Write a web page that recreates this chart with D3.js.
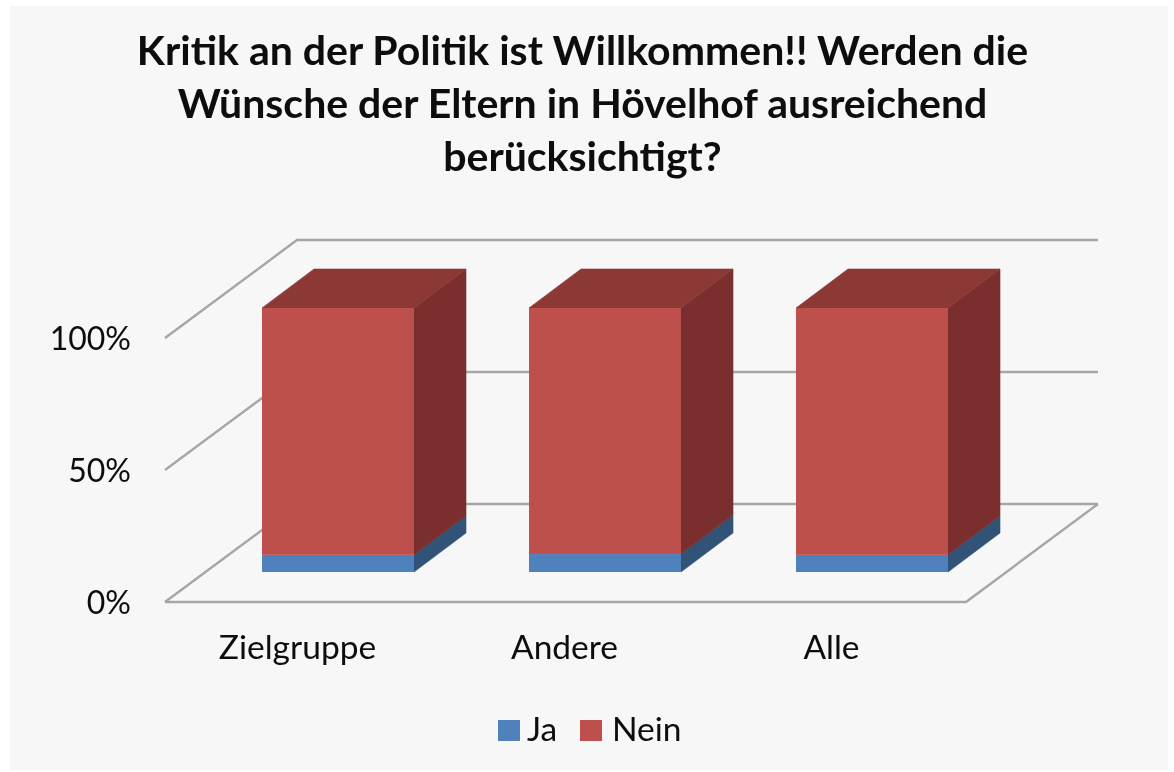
<!DOCTYPE html>
<html><head><meta charset="utf-8">
<script src="https://cdn.jsdelivr.net/npm/d3@7/dist/d3.min.js"></script>
<style>html,body{margin:0;padding:0;background:#fff}svg{display:block}text{font-family:Lato,"Open Sans",sans-serif;fill:#0c0c0c}</style>
</head><body><svg id="c" width="1174" height="772"></svg>
<script>
const titleLines = ["Kritik an der Politik ist Willkommen!! Werden die","Wünsche der Eltern in Hövelhof ausreichend","berücksichtigt?"];
const categories = ["Zielgruppe","Andere","Alle"];
const ja = [0.065,0.068,0.065];
const nein = [0.935,0.932,0.935];
const seriesNames = ["Ja","Nein"];
const tickValues = [0,0.5,1];

const svg = d3.select("#c");
const defs = svg.append("defs");
defs.append("filter").attr("id","soft").append("feGaussianBlur").attr("stdDeviation",0.7);
defs.append("filter").attr("id","softT").append("feGaussianBlur").attr("stdDeviation",0.4);
svg.append("rect").attr("x",10).attr("y",6).attr("width",1158).attr("height",764).attr("fill","#f7f7f7");

const x = d3.scaleBand().domain(categories).range([165,966]).padding(0);
const y = d3.scaleLinear().domain([0,1]).range([602,338]);
const floorDx = 132, floorDy = -98;   // oblique depth of the floor
const barOffX = 39.5, barOffY = -30;  // bars stand set back on the floor
const depthX = 52, depthY = -39;      // bar depth
const barW = 152;

const color = {Ja:{front:"#4f81bd",side:"#325278"},Nein:{front:"#bd504d",side:"#7a2f2f",top:"#8c3836"}};

const g = svg.append("g").attr("filter","url(#soft)");
const grid = "#a6a6a6";
// back wall and side wall gridlines
tickValues.forEach(t=>{
  const py=y(t);
  g.append("path").attr("fill","none").attr("stroke",grid).attr("stroke-width",2.4)
   .attr("d",d3.line()([[x.range()[0],py],[x.range()[0]+floorDx,py+floorDy],[x.range()[1]+floorDx,py+floorDy]]));
});
// floor front edge
g.append("path").attr("fill","none").attr("stroke",grid).attr("stroke-width",2.4)
 .attr("d",d3.line()([[x.range()[0],y(0)],[x.range()[1],y(0)],[x.range()[1]+floorDx,y(0)+floorDy]]));

// stacked bars
categories.forEach((c,i)=>{
  const x0 = x(c)+x.bandwidth()/2-barW/2+barOffX, x1 = x0+barW;
  const stack = [{k:"Ja",a:0,b:ja[i]},{k:"Nein",a:ja[i],b:ja[i]+nein[i]}];
  const bg = g.append("g");
  stack.forEach(s=>{
    const y0=y(s.a)+barOffY, y1=y(s.b)+barOffY;
    bg.append("path").attr("fill",color[s.k].side).attr("stroke",color[s.k].side).attr("stroke-width",0.6)
      .attr("d",d3.line()([[x1,y0],[x1+depthX,y0+depthY],[x1+depthX,y1+depthY],[x1,y1]])+"Z");
  });
  const ytop=y(1)+barOffY;
  bg.append("path").attr("fill",color.Nein.top).attr("stroke",color.Nein.top).attr("stroke-width",0.6)
    .attr("d",d3.line()([[x0,ytop],[x0+depthX,ytop+depthY],[x1+depthX,ytop+depthY],[x1,ytop]])+"Z");
  stack.forEach(s=>{
    const y0=y(s.a)+barOffY, y1=y(s.b)+barOffY;
    bg.append("rect").attr("x",x0).attr("y",y1).attr("width",barW).attr("height",y0-y1).attr("fill",color[s.k].front);
  });
});

const tg = svg.append("g").attr("filter","url(#softT)");
// title
tg.append("g").selectAll("text").data(titleLines).join("text")
  .attr("x",582.5).attr("y",(d,i)=>65+i*53).attr("text-anchor","middle")
  .attr("font-size",41).attr("font-weight",700).text(d=>d);

// axes
const yAxis = d3.axisLeft(y).tickValues(tickValues).tickSize(0).tickPadding(0).tickFormat(d3.format(".0%"));
const ya = tg.append("g").attr("transform","translate(131,0)").call(yAxis);
ya.select(".domain").remove();
ya.selectAll("text").attr("font-size",32).attr("dy",11).style("font-family","Lato");
const xAxis = d3.axisBottom(x).tickSize(0).tickPadding(0);
const xa = tg.append("g").attr("transform","translate(-1,633)").call(xAxis);
xa.select(".domain").remove();
xa.selectAll("text").attr("font-size",33.5).attr("dy",26).style("font-family","Lato");

// legend
const legX = d3.scaleOrdinal().domain(seriesNames).range([498,580]);
const lg = tg.append("g").selectAll("g").data(seriesNames).join("g").attr("transform",d=>`translate(${legX(d)},720)`);
lg.append("rect").attr("width",22).attr("height",21).attr("fill",d=>color[d].front);
lg.append("text").attr("x",d=>d==="Ja"?29:32).attr("y",21).attr("font-size",33.5).text(d=>d);
</script></body></html>
